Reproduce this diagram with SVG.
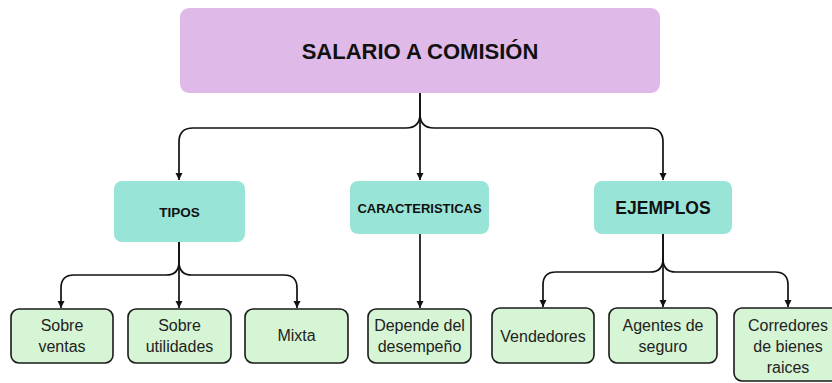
<svg xmlns="http://www.w3.org/2000/svg" width="832" height="383" viewBox="0 0 832 383">
<style>
.top{fill:#dfb9e7}
.mid{fill:#98e4d6}
.leaf{fill:#d6f5d4;stroke:#1a1a1a;stroke-width:1.6}
.h{font-family:"Liberation Sans",Arial,sans-serif;font-weight:bold;fill:#111;text-anchor:middle}
.t{font-family:"Liberation Sans",Arial,sans-serif;font-size:16px;fill:#222;text-anchor:middle}
.c{fill:none;stroke:#111;stroke-width:1.7}
</style>
<defs>
<marker id="ar" markerUnits="userSpaceOnUse" markerWidth="10" markerHeight="10" viewBox="0 0 10 10" refX="8" refY="5" orient="auto">
<path d="M1,1.5 L8,5 L1,8.5 Z" fill="#111"/>
</marker>
</defs>
<rect width="832" height="383" fill="#fff"/>
<g id="connectors">
<path class="c" d="M420,93 V114 Q420,128 406,128 H193 Q179,128 179,142 V180" marker-end="url(#ar)"/>
<path class="c" d="M420,93 V180" marker-end="url(#ar)"/>
<path class="c" d="M420,114 Q420,128 434,128 H649 Q663,128 663,142 V180" marker-end="url(#ar)"/>
<path class="c" d="M179,242 V262 Q179,275 166,275 H74 Q61,275 61,288 V308" marker-end="url(#ar)"/>
<path class="c" d="M179,242 V308" marker-end="url(#ar)"/>
<path class="c" d="M179,262 Q179,275 192,275 H284 Q297,275 297,288 V308" marker-end="url(#ar)"/>
<path class="c" d="M420,234 V308" marker-end="url(#ar)"/>
<path class="c" d="M663,234 V259 Q663,272 650,272 H556 Q543,272 543,285 V307" marker-end="url(#ar)"/>
<path class="c" d="M663,234 V307" marker-end="url(#ar)"/>
<path class="c" d="M663,259 Q663,272 676,272 H775 Q788,272 788,285 V307" marker-end="url(#ar)"/>
</g>
<g id="salario">
<rect class="top" x="180" y="8" width="480" height="85" rx="9"/>
<text class="h" x="420" y="59" font-size="22">SALARIO A COMISIÓN</text>
</g>
<g id="tipos">
<rect class="mid" x="114" y="181" width="131" height="61" rx="8"/>
<text class="h" x="179.5" y="217" font-size="13.5">TIPOS</text>
</g>
<g id="caracteristicas">
<rect class="mid" x="350" y="181" width="139" height="53" rx="8"/>
<text class="h" x="419.5" y="213" font-size="13">CARACTERISTICAS</text>
</g>
<g id="ejemplos">
<rect class="mid" x="594" y="181" width="138" height="53" rx="8"/>
<text class="h" x="663" y="214" font-size="17.5">EJEMPLOS</text>
</g>
<g id="sobre-ventas">
<rect class="leaf" x="11" y="309" width="102" height="54" rx="8"/>
<text class="t" x="62" y="331">Sobre</text>
<text class="t" x="62" y="352">ventas</text>
</g>
<g id="sobre-utilidades">
<rect class="leaf" x="128" y="309" width="103" height="54" rx="8"/>
<text class="t" x="179.5" y="331">Sobre</text>
<text class="t" x="179.5" y="352">utilidades</text>
</g>
<g id="mixta">
<rect class="leaf" x="245" y="309" width="103" height="54" rx="8"/>
<text class="t" x="296.5" y="341">Mixta</text>
</g>
<g id="depende">
<rect class="leaf" x="368" y="309" width="103" height="54" rx="8"/>
<text class="t" x="419.5" y="331">Depende del</text>
<text class="t" x="419.5" y="352">desempeño</text>
</g>
<g id="vendedores">
<rect class="leaf" x="492" y="308" width="102" height="55" rx="8"/>
<text class="t" x="543" y="342">Vendedores</text>
</g>
<g id="agentes">
<rect class="leaf" x="609" y="308" width="108" height="55" rx="8"/>
<text class="t" x="663" y="331">Agentes de</text>
<text class="t" x="663" y="352">seguro</text>
</g>
<g id="corredores">
<rect class="leaf" x="734" y="308" width="110" height="73" rx="8"/>
<text class="t" x="788" y="331">Corredores</text>
<text class="t" x="788" y="352">de bienes</text>
<text class="t" x="788" y="373">raices</text>
</g>
</svg>
